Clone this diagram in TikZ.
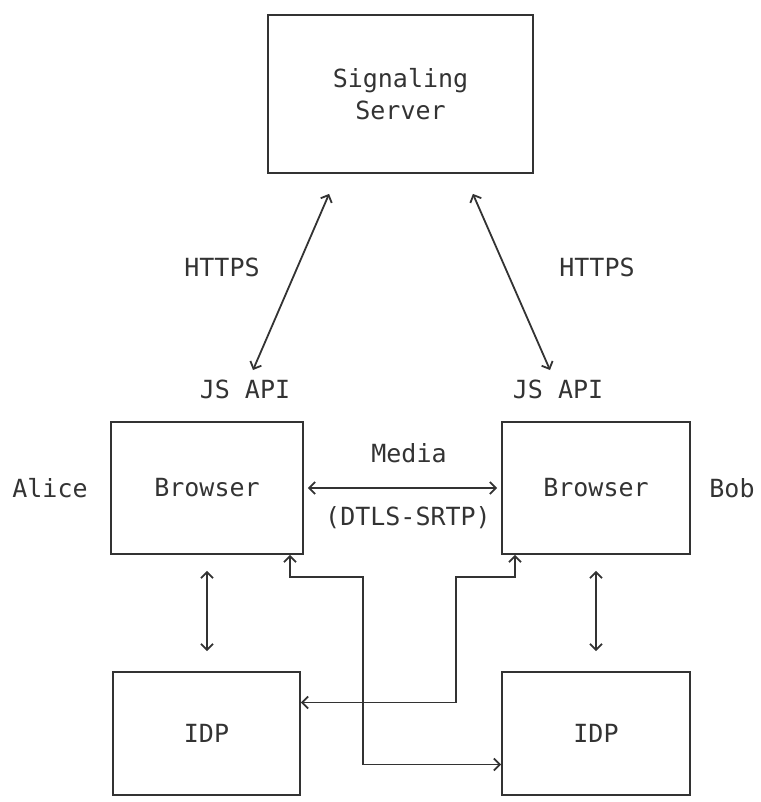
\documentclass[tikz,border=0pt]{standalone}
\usepackage{fontspec}
\usetikzlibrary{arrows.meta}
\setmonofont{DejaVu Sans Mono}
\definecolor{ink}{HTML}{333333}

\begin{document}
\begin{tikzpicture}[x=1pt, y=-1pt, auto, node distance=100pt, >={Straight Barb[length=6pt, width=12pt]},
    every node/.style={font=\ttfamily\fontsize{25}{32}\selectfont, text=ink},
    box/.style={draw=ink, rectangle, line width=1.8pt, align=center, minimum height=132pt},
    link/.style={draw=ink, line width=1.8pt, <->}]

    \useasboundingbox (0,0) rectangle (760,802);

    % Nodes
    \node [box, minimum width=265pt, minimum height=158pt] (signaling_server) at (400.5,94) {Signaling\\Server};
    \node [box, minimum width=192pt] (browser_alice) at (207,488) {Browser};
    \node [box, minimum width=188pt] (browser_bob) at (596,488) {Browser};
    \node [box, minimum width=187pt, minimum height=123pt] (idp_alice) at (206.5,733.5) {IDP};
    \node [box, minimum width=188pt, minimum height=123pt] (idp_bob) at (596,733.5) {IDP};
    \node [left of=browser_alice, node distance=157pt] (alice) {Alice};
    \node [right of=browser_bob, node distance=136pt] (bob) {Bob};
    \node (js_api_alice) at (245,389) {JS API};
    \node (js_api_bob) at (558,389) {JS API};
    \node (https_alice) at (222,267) {HTTPS};
    \node (https_bob) at (597,267) {HTTPS};
    \node (media) at (409,453) {Media};
    \node (dtls_srtp) at (408,518) {(DTLS-SRTP)};
    \coordinate (turn_alice) at (363,577);
    \coordinate (turn_bob) at (456,577);

    % Arrows
    \draw[link] ([xshift=62pt, yshift=-20pt]signaling_server.south west) -- ([xshift=8pt, yshift=6pt]js_api_alice.north);
    \draw[link] ([xshift=-61pt, yshift=-20pt]signaling_server.south east) -- ([xshift=-8pt, yshift=6pt]js_api_bob.north);
    \draw[link, shorten <=4pt, shorten >=4pt] (browser_alice.east) -- (browser_bob.west);
    \draw[link, shorten <=16pt, shorten >=20pt] (browser_alice.south) -- (browser_alice.south |- idp_alice.north);
    \draw[link, shorten <=16pt, shorten >=20pt] (browser_bob.south) -- (browser_bob.south |- idp_bob.north);
    \draw[link] ([xshift=83pt]browser_alice.south) |- (turn_alice) |- ([yshift=-31pt]idp_bob.west);
    \draw[link] ([xshift=-81pt]browser_bob.south) |- (turn_bob) |- ([yshift=31pt]idp_alice.east);
\end{tikzpicture}
\end{document}
